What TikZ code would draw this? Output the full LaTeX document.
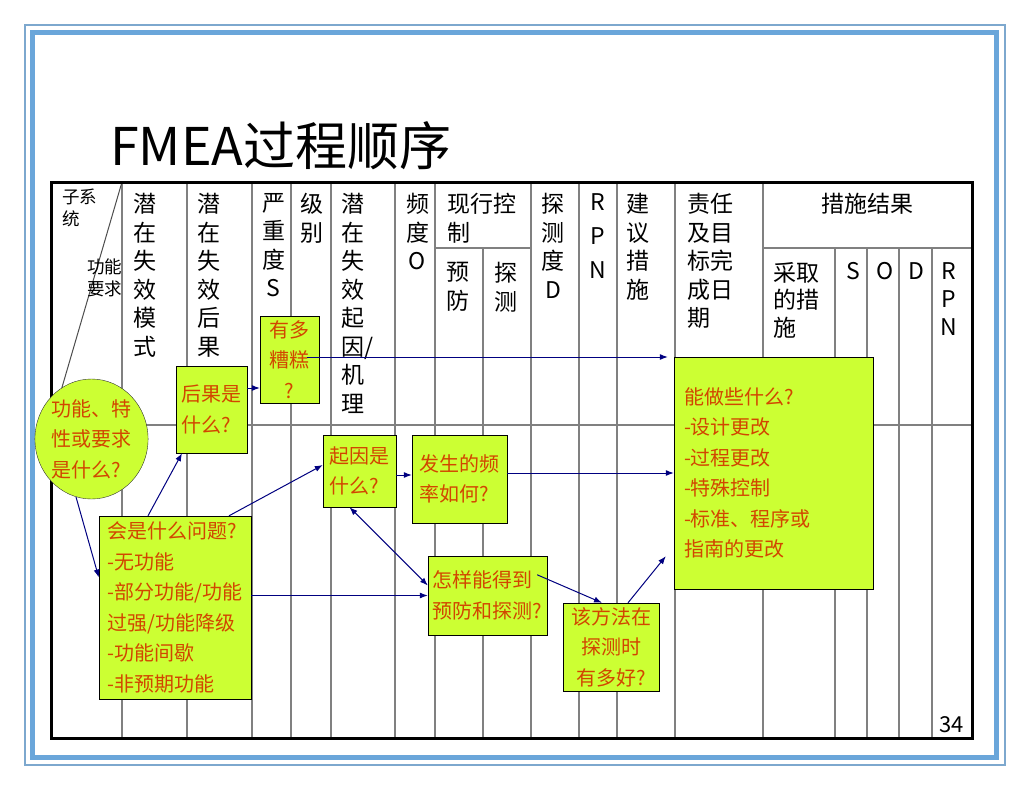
\documentclass[tikz,border=0pt]{standalone}
\usepackage{fontspec}
\setmainfont{Noto Sans CJK SC}
\usetikzlibrary{shapes.geometric,arrows,arrows.meta}
\definecolor{framegrey}{RGB}{125,168,206}
\definecolor{frameblue}{RGB}{106,166,218}
\definecolor{boxgreen}{RGB}{204,255,51}
\definecolor{boxtext}{RGB}{210,70,0}
\definecolor{arrownavy}{RGB}{0,0,128}
\definecolor{rulegrey}{RGB}{128,128,128}
\tikzset{%
	hdr/.style={anchor=north, inner sep=0pt, align=center, font=\fontsize{23}{28.5}\selectfont},
	hdrsmall/.style={anchor=north west, inner sep=0pt, align=left, font=\fontsize{17.5}{22}\selectfont},
	qbox/.style={rectangle, draw=black, fill=boxgreen, text=boxtext, inner sep=0pt, align=left, font=\fontsize{20}{30.5}\selectfont},
	gridline/.style={draw=rulegrey, line width=2pt},
	conn/.style={draw=arrownavy, line width=1pt, ->, >={Latex[length=8pt,width=6pt]}}
}

\begin{document}
\begin{tikzpicture}[x=1pt, y=-1pt]
	\useasboundingbox (0,0) rectangle (1030,790);
	\fill[white] (0,0) rectangle (1030,790);
	\draw[framegrey, line width=2pt] (25,25) rectangle (1005,765);
	\draw[frameblue, line width=5pt] (32.5,32.5) rectangle (996.5,757.5);
	
	\node[anchor=base west, inner sep=0pt, font=\fontsize{52}{60}\selectfont] (title) at (110,165) {FMEA过程顺序};
	
	% table
	\draw[gridline] (122,182) -- (122,738) (187,182) -- (187,738) (252,182) -- (252,738)
		(291,182) -- (291,738) (331,182) -- (331,738) (395,182) -- (395,738)
		(435,182) -- (435,738) (531,182) -- (531,738) (579,182) -- (579,738)
		(617,182) -- (617,738) (675,182) -- (675,738) (763,182) -- (763,738);
	\draw[gridline] (483,248) -- (483,738) (835,248) -- (835,738) (867,248) -- (867,738)
		(899,248) -- (899,738) (932,248) -- (932,738);
	\draw[gridline] (51,425) -- (972,425) (435,248) -- (531,248) (763,248) -- (972,248);
	\draw[draw=rulegrey!60!black, line width=1pt] (122,182) -- (51,425);
	\draw[line width=3pt] (51,182) rectangle (972,738);
	
	% header
	\node[hdrsmall] (hsub) at (62,189) {子系\\统};
	\node[hdrsmall] (hfunc) at (87,259) {功能\\要求};
	\node[hdr] (hmode) at (145,193) {潜\\在\\失\\效\\模\\式};
	\node[hdr] (heffect) at (208.5,193) {潜\\在\\失\\效\\后\\果};
	\node[hdr] (hsev) at (273.5,193) {严\\重\\度\\S};
	\node[hdr] (hclass) at (311.5,193) {级\\别};
	\node[hdr] (hcause) at (352.5,193) {潜\\在\\失\\效\\起\\因\rlap{/}\\机\\理};
	\node[hdr] (hocc) at (417.5,193) {频\\度\\O};
	\node[hdr, anchor=north west, align=left] (hctrl) at (447,193) {现行控\\制};
	\node[hdr] (hprev) at (457.5,262) {预\\防};
	\node[hdr] (hdet) at (505.5,262) {探\\测};
	\node[hdr] (hdetd) at (553,193) {探\\测\\度\\D};
	\node[hdr, font=\fontsize{23}{34}\selectfont] (hrpn) at (598,193) {R\\P\\N};
	\node[hdr] (hact) at (637.5,193) {建\\议\\措\\施};
	\node[hdr, anchor=north west, align=left] (hresp) at (687,193) {责任\\及目\\标完\\成日\\期};
	\node[hdr] (hres) at (867,193) {措施结果};
	\node[hdr, anchor=north west, align=left, font=\fontsize{23}{27.5}\selectfont] (htaken) at (773,262) {采取\\的措\\施};
	\node[hdr] (hs) at (853,262) {S};
	\node[hdr] (ho) at (885,262) {O};
	\node[hdr] (hd) at (916,262) {D};
	\node[hdr, font=\fontsize{23}{28}\selectfont] (hrpnb) at (949,262) {R\\P\\N};
	\node[anchor=base east, inner sep=0pt, font=\fontsize{22}{26}\selectfont] (page) at (964,732) {34};
	
	% question boxes
	\node[qbox, ellipse, draw=black!80, minimum width=111pt, minimum height=120pt] (fn) at (91.5,439) {功能、特\\性或要求\\是什么?};
	\node[qbox, minimum width=71pt, minimum height=87pt] (conseq) at (211.5,409.5) {后果是\\什么?};
	\node[qbox, align=center, minimum width=59pt, minimum height=87pt] (bad) at (289.5,359.5) {有多\\糟糕\\?};
	\node[qbox, minimum width=152pt, minimum height=183pt] (fail) at (175,607.5) {会是什么问题?\\-无功能\\-部分功能/功能\\过强/功能降级\\-功能间歇\\-非预期功能};
	\node[qbox, minimum width=73pt, minimum height=72pt] (cause) at (359.5,471) {起因是\\什么?};
	\node[qbox, minimum width=95pt, minimum height=88pt] (freq) at (459.5,479) {发生的频\\率如何?};
	\node[qbox, minimum width=119pt, minimum height=79pt] (ctrl) at (487.5,595.5) {怎样能得到\\预防和探测?};
	\node[qbox, align=center, minimum width=96pt, minimum height=88pt] (detect) at (611,647) {该方法在\\探测时\\有多好?};
	\node[qbox, text width=179pt, inner xsep=10pt, minimum height=232pt] (action) at (773.5,473) {能做些什么?\\-设计更改\\-过程更改\\-特殊控制\\-标准、程序或\\指南的更改};
	
	% arrows
	\coordinate (a1) at ([yshift=21.5pt]conseq.east);
	\draw[conn] (a1) -- (a1 -| bad.west);
	\coordinate (b1) at ([xshift=17.5pt,yshift=2.5pt]bad.center);
	\draw[conn, shorten >=6pt] (b1) -- (b1 -| action.west);
	\draw[conn] (fn.255) -- ([yshift=30pt]fail.west);
	\draw[conn] ([xshift=-27pt]fail.north) -- ([xshift=-29.5pt]conseq.south);
	\draw[conn] ([xshift=54pt]fail.north) -- ([yshift=6pt]cause.west);
	\coordinate (f1) at ([yshift=-4pt]cause.east);
	\draw[conn] (f1) -- (f1 -| freq.west);
	\draw[conn] (freq.east |- action.west) -- (action.west);
	\draw[conn, <->] ([xshift=-10pt]cause.south) -- ([yshift=10pt]ctrl.west);
	\draw[conn] (fail.east |- ctrl.west) -- (ctrl.west);
	\draw[conn] ([xshift=-10pt,yshift=-19pt]ctrl.north east) -- ([xshift=-9pt]detect.north);
	\coordinate (k1) at ([xshift=-8pt,yshift=33pt]action.south west);
	\draw[conn] ([xshift=17pt]detect.north) -- (k1);
\end{tikzpicture}
\end{document}
